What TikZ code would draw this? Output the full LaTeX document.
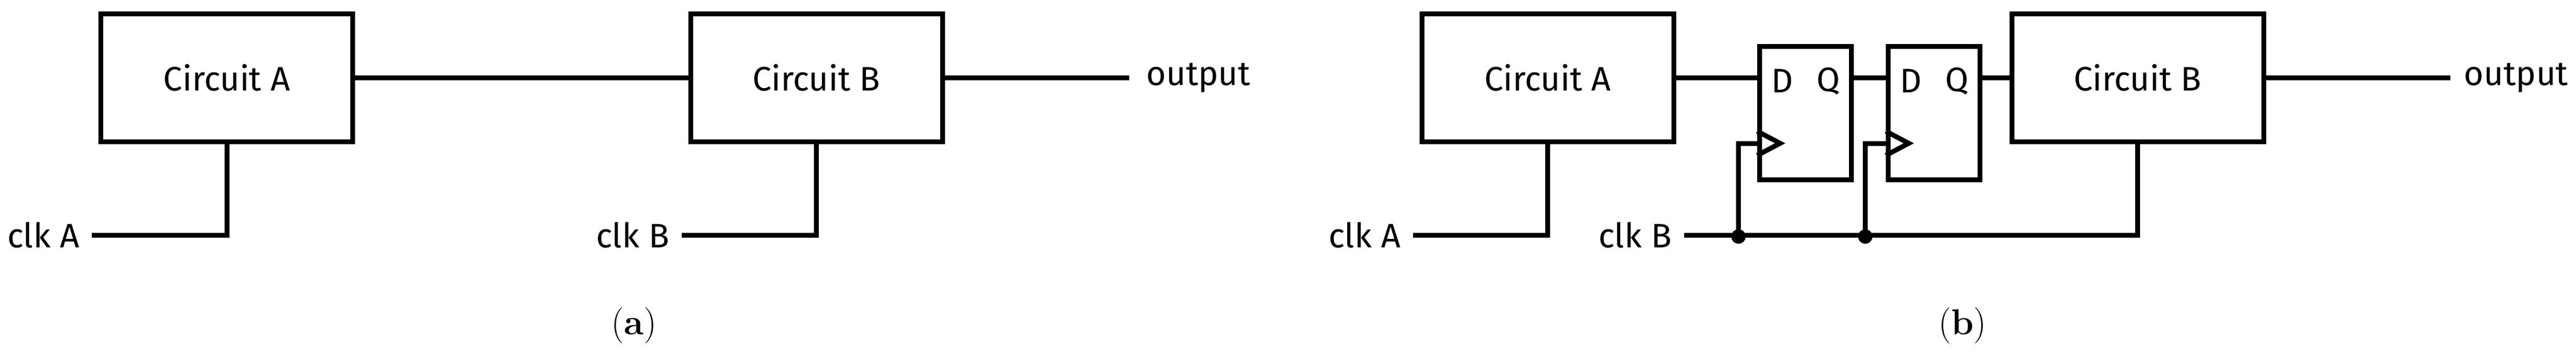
\documentclass[tikz,border=0pt]{standalone}
\usepackage{fontspec}
\newfontfamily\firasans{Fira Sans}
\tikzset{
	block/.style={draw,line width=0.8mm,minimum width=4.17cm,minimum height=2.12cm,font=\firasans\fontsize{16}{18}\selectfont},
	dff/.style={draw,line width=0.8mm,minimum width=1.52cm,minimum height=2.21cm},
	lbl/.style={font=\firasans\fontsize{16}{18}\selectfont,inner sep=0pt},
	wire/.style={line width=0.8mm},
	subcap/.style={font=\fontsize{17}{19}\selectfont,inner sep=0pt}
}
\begin{document}
\begin{tikzpicture}
		\useasboundingbox (0,0) rectangle (42.66,-5.94);
		% (a)
		\begin{scope}
		\node[block] (cA) at (3.755,-1.29) {Circuit A};
		\node[block] (cB) at (13.52,-1.29) {Circuit B};
		\node[lbl,anchor=east] (clkA) at (1.32,-3.9) {clk A};
		\node[lbl,anchor=east] (clkB) at (11.09,-3.9) {clk B};
		\node[lbl,anchor=west] (out) at (18.98,-1.29) {output};
		\draw[wire] (cA.east) -- (cB.west);
		\draw[wire] (cB.east) -- ++(3.05,0);
		\draw[wire] ([xshift=2mm]clkA.east) -| (cA.south);
		\draw[wire] ([xshift=2mm]clkB.east) -| (cB.south);
		\node[subcap] (capa) at (10.5,-5.4) {(\textbf{a})};
		\end{scope}
		% (b)
		\begin{scope}
		\node[block] (cA2) at (25.63,-1.29) {Circuit A};
		\node[block] (cB2) at (35.4,-1.29) {Circuit B};
		\node[dff] (ff1) at (29.9,-1.875) {};
		\node[dff] (ff2) at (32.03,-1.875) {};
		\foreach \f in {ff1,ff2}
		{
			\node[lbl] at ([xshift=-3.8mm,yshift=5.3mm]\f.center) {D};
			\node[lbl] at ([xshift=3.8mm,yshift=5.3mm]\f.center) {Q};
			\draw[wire] ([yshift=-3mm]\f.west) -- ++(0.38,-0.2) -- ++(-0.38,-0.2);
		}
		\node[lbl,anchor=east] (clkA2) at (23.2,-3.9) {clk A};
		\node[lbl,anchor=east] (clkB2) at (27.69,-3.9) {clk B};
		\node[lbl,anchor=west] (out2) at (40.8,-1.29) {output};
		\coordinate (j1) at (28.79,-3.92);
		\coordinate (j2) at (30.89,-3.92);
		\draw[wire] (cA2.east) -- (cA2.east -| ff1.west);
		\draw[wire] (ff1.east |- cA2.east) -- (ff2.west |- cA2.east);
		\draw[wire] (ff2.east |- cA2.east) -- (cB2.west);
		\draw[wire] (cB2.east) -- ++(3.05,0);
		\draw[wire] ([xshift=2mm]clkA2.east) -| (cA2.south);
		\draw[wire] ([xshift=2mm]clkB2.east) -| (cB2.south);
		\draw[wire] ([yshift=-5mm]ff1.west) -| (j1);
		\draw[wire] ([yshift=-5mm]ff2.west) -| (j2);
		\fill (j1) circle (0.12cm);
		\fill (j2) circle (0.12cm);
		\node[subcap] (capb) at (32.5,-5.4) {(\textbf{b})};
		\end{scope}
\end{tikzpicture}
\end{document}
